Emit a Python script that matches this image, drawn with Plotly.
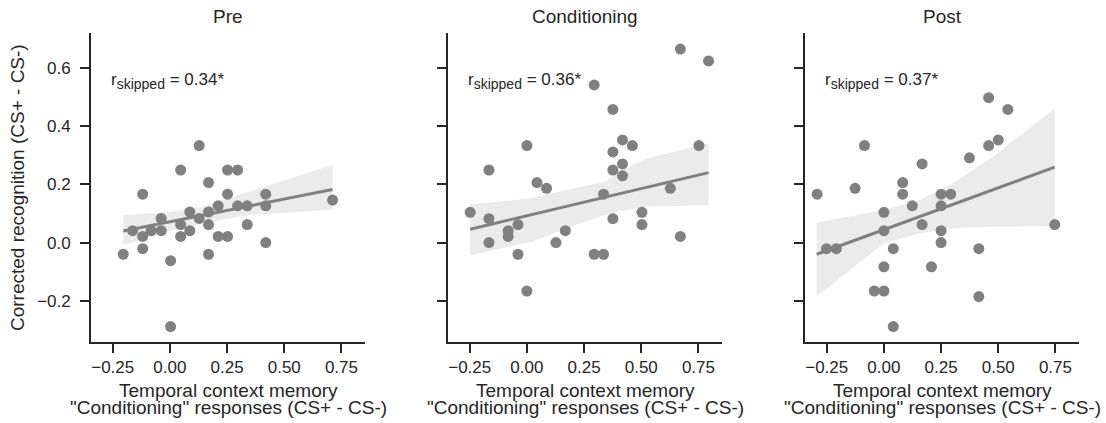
import plotly.graph_objects as go

# ---------------- data ----------------
panel_titles = ["Pre", "Conditioning", "Post"]
r_labels = ["0.34*", "0.36*", "0.37*"]

pre_x = [0.128, 0.047, 0.252, 0.296, 0.169, -0.119, 0.252, 0.419, 0.711, 0.211, 0.296, 0.338,
         0.419, 0.087, 0.169, -0.038, 0.128, 0.047, 0.169, 0.338, -0.163, -0.082, -0.038, 0.087,
         -0.119, 0.047, 0.211, 0.252, 0.419, -0.204, -0.119, 0.169, 0.003, 0.003]
pre_y = [0.333, 0.249, 0.249, 0.249, 0.206, 0.166, 0.166, 0.166, 0.146, 0.126, 0.126, 0.126,
         0.126, 0.105, 0.105, 0.083, 0.083, 0.062, 0.062, 0.062, 0.041, 0.041, 0.041, 0.041,
         0.021, 0.021, 0.021, 0.021, 0.0, -0.040, -0.021, -0.040, -0.062, -0.288]

cond_x = [0.671, 0.794, 0.294, 0.376, 0.0, 0.418, 0.461, 0.752, 0.376, 0.418, -0.166, 0.376,
          0.418, 0.044, 0.086, 0.627, 0.335, -0.248, 0.503, -0.166, 0.376, -0.039, 0.503,
          -0.082, 0.168, -0.082, 0.671, -0.166, 0.127, -0.039, 0.294, 0.335, 0.0]
cond_y = [0.664, 0.623, 0.541, 0.457, 0.333, 0.352, 0.333, 0.333, 0.311, 0.270, 0.249, 0.249,
          0.229, 0.206, 0.186, 0.186, 0.166, 0.104, 0.104, 0.082, 0.082, 0.062, 0.062,
          0.041, 0.041, 0.021, 0.021, 0.0, 0.0, -0.040, -0.040, -0.040, -0.166]

post_x = [0.458, 0.542, -0.085, 0.458, 0.500, 0.374, 0.167, 0.082, -0.292, -0.126, 0.082,
          0.250, 0.292, 0.124, 0.250, 0.0, 0.0, 0.167, 0.250, 0.747, 0.250, -0.251, -0.208,
          0.041, 0.415, 0.0, 0.208, -0.042, 0.0, 0.415, 0.041]
post_y = [0.497, 0.457, 0.333, 0.333, 0.352, 0.291, 0.270, 0.206, 0.166, 0.186, 0.166,
          0.166, 0.166, 0.126, 0.126, 0.104, 0.041, 0.062, 0.041, 0.062, 0.0, -0.021, -0.021,
          -0.021, -0.021, -0.083, -0.083, -0.166, -0.166, -0.185, -0.288]

# regression lines (end points) and confidence bands
pre_fit_x = [-0.204, 0.711]
pre_fit_y = [0.040, 0.182]
pre_band_x = [-0.204, 0.0, 0.13, 0.35, 0.711]
pre_band_hi = [0.095, 0.105, 0.120, 0.175, 0.267]
pre_band_lo = [-0.008, 0.040, 0.065, 0.095, 0.113]

cond_fit_x = [-0.248, 0.794]
cond_fit_y = [0.046, 0.240]
cond_band_x = [-0.248, 0.022, 0.211, 0.342, 0.43, 0.532, 0.794]
cond_band_hi = [0.131, 0.152, 0.187, 0.209, 0.255, 0.290, 0.341]
cond_band_lo = [-0.043, 0.003, 0.060, 0.095, 0.112, 0.124, 0.128]

post_fit_x = [-0.294, 0.747]
post_fit_y = [-0.040, 0.259]
post_band_x = [-0.294, 0.0, 0.157, 0.303, 0.478, 0.747]
post_band_hi = [0.069, 0.112, 0.146, 0.204, 0.295, 0.461]
post_band_lo = [-0.185, -0.002, 0.032, 0.049, 0.054, 0.057]

x_tickvals = [-0.25, 0.0, 0.25, 0.5, 0.75]
x_ticktext = ["\u22120.25", "0.00", "0.25", "0.50", "0.75"]
y_tickvals = [-0.2, 0.0, 0.2, 0.4, 0.6]
y_ticktext = ["\u22120.2", "0.0", "0.2", "0.4", "0.6"]

xlabel_lines = ["Temporal context memory", '"Conditioning" responses (CS+ - CS-)']
ylabel = "Corrected recognition (CS+ - CS-)"

# ---------------- figure ----------------
W, H = 1106, 423
FONT = "Liberation Sans, Arial, Helvetica, sans-serif"
INK = "#262626"
GRAY = "#808080"
BAND = "#ebebeb"

panels = [
    (pre_x, pre_y, pre_fit_x, pre_fit_y, pre_band_x, pre_band_hi, pre_band_lo),
    (cond_x, cond_y, cond_fit_x, cond_fit_y, cond_band_x, cond_band_hi, cond_band_lo),
    (post_x, post_y, post_fit_x, post_fit_y, post_band_x, post_band_hi, post_band_lo),
]
xdoms_px = [(91, 365), (448, 722), (805, 1079)]
ytop_px, ybot_px = 33, 342
ydom = [1 - ybot_px / H, 1 - ytop_px / H]
xrange_ = [-0.345, 0.853]
yrange_ = [-0.341, 0.719]

fig = go.Figure()
layout = dict(
    width=W, height=H,
    margin=dict(l=0, r=0, t=0, b=0),
    paper_bgcolor="white", plot_bgcolor="white",
    showlegend=False,
    font=dict(family=FONT, color=INK, size=17),
)
annotations = []

for i, (px, py, fx, fy, bx, bhi, blo) in enumerate(panels):
    k = "" if i == 0 else str(i + 1)
    xa, ya = "x" + k, "y" + k
    # band
    fig.add_trace(go.Scatter(
        x=list(bx) + list(bx[::-1]), y=list(bhi) + list(blo[::-1]),
        xaxis=xa, yaxis=ya, mode="lines", fill="toself", fillcolor=BAND,
        line=dict(width=0), hoverinfo="skip"))
    # points
    fig.add_trace(go.Scatter(
        x=px, y=py, xaxis=xa, yaxis=ya, mode="markers",
        marker=dict(size=11, color=GRAY, line=dict(width=0))))
    # regression line
    fig.add_trace(go.Scatter(
        x=fx, y=fy, xaxis=xa, yaxis=ya, mode="lines",
        line=dict(color=GRAY, width=3)))

    d0, d1 = xdoms_px[i]
    layout["xaxis" + k] = dict(
        domain=[d0 / W, d1 / W], range=xrange_, anchor=ya,
        showline=True, linecolor=INK, linewidth=1.8, mirror=False,
        ticks="outside", ticklen=9, tickwidth=1.8, tickcolor=INK,
        tickvals=x_tickvals, ticktext=x_ticktext,
        tickfont=dict(size=17, color=INK, family=FONT),
        showgrid=False, zeroline=False, fixedrange=True)
    layout["yaxis" + k] = dict(
        domain=ydom, range=yrange_, anchor=xa,
        showline=True, linecolor=INK, linewidth=1.8, mirror=False,
        ticks="outside", ticklen=9, tickwidth=1.8, tickcolor=INK,
        tickvals=y_tickvals, ticktext=y_ticktext, showticklabels=(i == 0),
        ticklabelstandoff=6,
        tickfont=dict(size=17, color=INK, family=FONT),
        showgrid=False, zeroline=False, fixedrange=True)

    cx = (d0 + d1) / 2 / W
    # panel title
    annotations.append(dict(
        text=panel_titles[i], xref="paper", yref="paper", x=cx, y=1 - 17 / H,
        xanchor="center", yanchor="middle", showarrow=False,
        font=dict(size=19, color=INK, family=FONT)))
    # x label (two lines, tight line spacing)
    for j, line in enumerate(xlabel_lines):
        annotations.append(dict(
            text=line, xref="paper", yref="paper", x=cx, y=1 - (378 + 16.8 * j) / H,
            xanchor="center", yanchor="top", showarrow=False,
            font=dict(size=19, color=INK, family=FONT)))
    # r annotation
    annotations.append(dict(
        text="r<sub><span style='font-size:14px'>skipped</span></sub> = " + r_labels[i],
        xref=xa, yref=ya,
        x=-0.266, y=0.555, xanchor="left", yanchor="middle", showarrow=False,
        font=dict(size=17, color=INK, family=FONT)))

# y label
annotations.append(dict(
    text=ylabel, xref="paper", yref="paper", x=17 / W, y=1 - 188 / H,
    xanchor="center", yanchor="middle", textangle=-90, showarrow=False,
    font=dict(size=19, color=INK, family=FONT)))

layout["annotations"] = annotations
fig.update_layout(**layout)
fig.write_html("out.html", config={"displayModeBar": False},
               post_script="document.body.style.margin='0';document.body.style.overflow='hidden';")
